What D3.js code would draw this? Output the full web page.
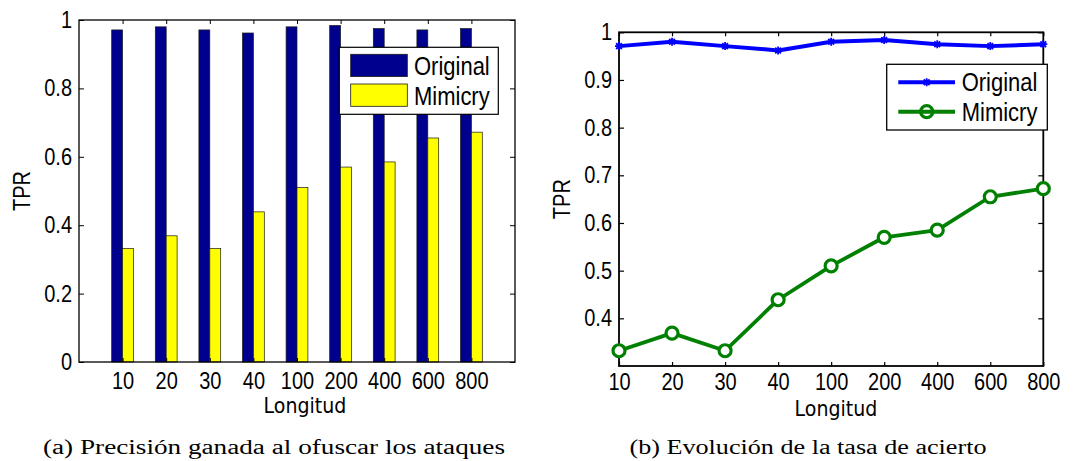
<!DOCTYPE html>
<html><head><meta charset="utf-8">
<script src="https://cdn.jsdelivr.net/npm/d3@7/dist/d3.min.js"></script>
<style>
body{margin:0;background:#fff}
svg text{font-family:"Liberation Sans",Arial,Helvetica,sans-serif;fill:#000}
svg text.st{transform-box:fill-box;transform-origin:center;transform:scaleY(1.15)}
</style>
</head><body>
<svg id="c" width="1081" height="461"></svg>
<script>
const categories = ["10","20","30","40","100","200","400","600","800"];
const original = [0.971,0.980,0.971,0.962,0.980,0.984,0.975,0.971,0.975];
const mimicry  = [0.332,0.369,0.332,0.439,0.510,0.570,0.585,0.655,0.672];
const yTicksA = [0,0.2,0.4,0.6,0.8,1];
const yTicksB = [0.4,0.5,0.6,0.7,0.8,0.9,1];
const seriesNames = ["Original","Mimicry"];
const xLabel = "Longitud";
const yLabel = "TPR";
const captions = ["(a) Precisión ganada al ofuscar los ataques","(b) Evolución de la tasa de acierto"];

const svg = d3.select("#c");
const fmt = d => String(d);

/* ---------- Panel A: bars ---------- */
const A = {l:79,r:515,t:20,b:362};
const xA = d3.scaleLinear().domain([0,10]).range([A.l,A.r]);
const yA = d3.scaleLinear().domain([0,1]).range([A.b,A.t]);
const bw = 0.25;
const gA = svg.append("g");
const barColors = ["#00008F","#FFFF00"];
[original, mimicry].forEach((vals,s)=>{
  gA.append("g").selectAll("rect").data(vals).join("rect")
    .attr("x",(d,i)=>xA(i+1+(s===0?-bw:0)))
    .attr("width",xA(bw)-xA(0))
    .attr("y",d=>yA(d))
    .attr("height",d=>yA(0)-yA(d))
    .attr("fill",barColors[s])
    .attr("stroke","#1a1a1a").attr("stroke-width",0.7);
});
const axA_b = d3.axisBottom(xA).tickValues(d3.range(1,10)).tickFormat(i=>categories[i-1]).tickSizeInner(-4).tickSizeOuter(0).tickPadding(12);
const axA_t = d3.axisTop(xA).tickValues(d3.range(1,10)).tickFormat("").tickSizeInner(-4).tickSizeOuter(0);
const axA_l = d3.axisLeft(yA).tickValues(yTicksA).tickFormat(fmt).tickSizeInner(-5).tickSizeOuter(0).tickPadding(7);
const axA_r = d3.axisRight(yA).tickValues(yTicksA).tickFormat("").tickSizeInner(-5).tickSizeOuter(0);
function styleAxis(g,sw){
  g.select(".domain").remove();
  g.selectAll("line").attr("stroke","#000").attr("stroke-width",sw);
  g.selectAll("text").attr("font-size",20).attr("class","st");
  g.attr("font-size",null).attr("font-family",null);
}
gA.append("g").attr("transform",`translate(0,${A.b})`).call(axA_b).call(g=>styleAxis(g,1));
gA.append("g").attr("transform",`translate(0,${A.t})`).call(axA_t).call(g=>styleAxis(g,1));
gA.append("g").attr("transform",`translate(${A.l},0)`).call(axA_l).call(g=>styleAxis(g,1));
gA.append("g").attr("transform",`translate(${A.r},0)`).call(axA_r).call(g=>styleAxis(g,1));
gA.append("rect").attr("x",A.l).attr("y",A.t).attr("width",A.r-A.l).attr("height",A.b-A.t)
  .attr("fill","none").attr("stroke","#000").attr("stroke-width",1.3);
gA.append("text").attr("class","st").attr("x",305).attr("y",412).attr("text-anchor","middle")
  .attr("font-size",19).style("font-family",'"DejaVu Sans",sans-serif').text(xLabel);
gA.append("text").attr("transform",`translate(30,${(A.t+A.b)/2}) rotate(-90) scale(1,1.15)`).attr("text-anchor","middle")
  .attr("font-size",20).text(yLabel);
const LA = {x:339.3,y:47.3,w:159,h:67};
gA.append("rect").attr("x",LA.x).attr("y",LA.y).attr("width",LA.w).attr("height",LA.h)
  .attr("fill","#fff").attr("stroke","#000").attr("stroke-width",1.2);
seriesNames.forEach((n,s)=>{
  gA.append("rect").attr("x",350.7).attr("y",54.3+s*29.7).attr("width",56.6).attr("height",22.3)
    .attr("fill",barColors[s]).attr("stroke","#1a1a1a").attr("stroke-width",0.8);
  gA.append("text").attr("class","st").attr("x",414).attr("y",74+s*30).attr("font-size",22).text(n);
});

/* ---------- Panel B: lines ---------- */
const B = {l:619,r:1043.3,t:32.3,b:366};
const xB = d3.scalePoint().domain(categories).range([B.l,B.r]);
const yB = d3.scaleLinear().domain([0.3,1]).range([B.b,B.t]);
const gB = svg.append("g");
const axB_b = d3.axisBottom(xB).tickSizeInner(-4).tickSizeOuter(0).tickPadding(9);
const axB_t = d3.axisTop(xB).tickFormat("").tickSizeInner(-4).tickSizeOuter(0);
const axB_l = d3.axisLeft(yB).tickValues(yTicksB).tickFormat(fmt).tickSizeInner(-5).tickSizeOuter(0).tickPadding(7);
const axB_r = d3.axisRight(yB).tickValues(yTicksB).tickFormat("").tickSizeInner(-5).tickSizeOuter(0);
gB.append("g").attr("transform",`translate(0,${B.b})`).call(axB_b).call(g=>styleAxis(g,1.2));
gB.append("g").attr("transform",`translate(0,${B.t})`).call(axB_t).call(g=>styleAxis(g,1.2));
gB.append("g").attr("transform",`translate(${B.l},0)`).call(axB_l).call(g=>styleAxis(g,1.2));
gB.append("g").attr("transform",`translate(${B.r},0)`).call(axB_r).call(g=>styleAxis(g,1.2));
gB.append("rect").attr("x",B.l).attr("y",B.t).attr("width",B.r-B.l).attr("height",B.b-B.t)
  .attr("fill","none").attr("stroke","#000").attr("stroke-width",1.8);

const lineColors = ["#0000FF","#008000"];
const line = d3.line().x((d,i)=>xB(categories[i])).y(d=>yB(d));
const star = r => { const k=r*0.72; return `M${-r},0H${r}M0,${-r}V${r}M${-k},${-k}L${k},${k}M${-k},${k}L${k},${-k}`; };
gB.append("path").datum(original).attr("d",line).attr("fill","none")
  .attr("stroke",lineColors[0]).attr("stroke-width",4).attr("stroke-linejoin","round");
gB.append("g").selectAll("path").data(original).join("path")
  .attr("transform",(d,i)=>`translate(${xB(categories[i])},${yB(d)})`)
  .attr("d",star(4)).attr("stroke",lineColors[0]).attr("stroke-width",1.8).attr("fill","none");
gB.append("path").datum(mimicry).attr("d",line).attr("fill","none")
  .attr("stroke",lineColors[1]).attr("stroke-width",3.8).attr("stroke-linejoin","round");
gB.append("g").selectAll("circle").data(mimicry).join("circle")
  .attr("cx",(d,i)=>xB(categories[i])).attr("cy",d=>yB(d)).attr("r",6)
  .attr("fill","#fff").attr("stroke",lineColors[1]).attr("stroke-width",3.2);
gB.append("text").attr("class","st").attr("x",836).attr("y",415).attr("text-anchor","middle")
  .attr("font-size",19).style("font-family",'"DejaVu Sans",sans-serif').text(xLabel);
gB.append("text").attr("transform",`translate(570,${(B.t+B.b)/2}) rotate(-90) scale(1,1.15)`).attr("text-anchor","middle")
  .attr("font-size",20).text(yLabel);
gB.append("rect").attr("x",886.7).attr("y",64.3).attr("width",160.6).attr("height",65.7)
  .attr("fill","#fff").attr("stroke","#000").attr("stroke-width",1.3);
seriesNames.forEach((n,s)=>{
  const yy = 82.3 + s*29.4;
  gB.append("line").attr("x1",898.3).attr("x2",955).attr("y1",yy).attr("y2",yy)
    .attr("stroke",lineColors[s]).attr("stroke-width",4);
  if(s===0){
    gB.append("path").attr("transform",`translate(926.7,${yy})`).attr("d",star(4))
      .attr("stroke",lineColors[0]).attr("stroke-width",1.8).attr("fill","none");
  } else {
    gB.append("circle").attr("cx",926.7).attr("cy",yy).attr("r",6)
      .attr("fill","none").attr("stroke",lineColors[1]).attr("stroke-width",3.2);
  }
  gB.append("text").attr("class","st").attr("x",961.7).attr("y",yy+8).attr("font-size",22).text(n);
});

/* ---------- captions ---------- */
const capPos = [{x:274,w:462},{x:808,w:357}];
captions.forEach((c,i)=>{
  svg.append("text").attr("x",capPos[i].x).attr("y",454).attr("text-anchor","middle")
    .attr("font-size",20).style("font-family",'"Liberation Serif",serif')
    .attr("textLength",capPos[i].w).attr("lengthAdjust","spacingAndGlyphs").text(c);
});
</script>
</body></html>
